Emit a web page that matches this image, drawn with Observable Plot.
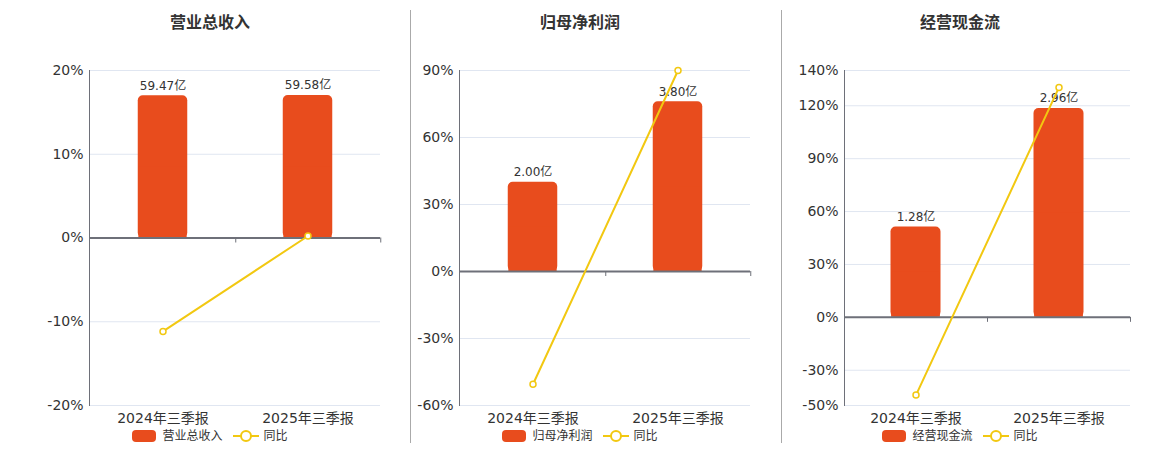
<!DOCTYPE html>
<html>
<head>
<meta charset="utf-8">
<script src="https://cdn.jsdelivr.net/npm/d3@7"></script>
<script src="https://cdn.jsdelivr.net/npm/@observablehq/plot@0.6"></script>
<style>
  html, body { margin: 0; padding: 0; background: #fff; }
  body { font-family: "DejaVu Sans", "Noto Sans CJK SC", sans-serif; }
  #root { position: relative; width: 1160px; height: 450px; overflow: hidden; }
  .panel { position: absolute; top: 40px; }
  .title { position: absolute; top: 13px; width: 300px; text-align: center; font-size: 16px; font-weight: bold; color: #333; line-height: 20px; }
  .legend { position: absolute; top: 428px; width: 400px; display: flex; justify-content: center; align-items: center; font-size: 12px; color: #333; line-height: 16px; }
  .sw { width: 24px; height: 12px; border-radius: 4px; display: inline-block; }
  .sep { position: absolute; top: 10px; width: 1px; height: 433px; background: #aaa; }
</style>
</head>
<body>
<div id="root"></div>
<script>
const categories = ["2024年三季报", "2025年三季报"];
const titles = ["营业总收入", "归母净利润", "经营现金流"];
const barValues = [[59.47, 59.58], [2.00, 3.80], [1.28, 2.96]];
const barUnit = "亿";
const yoyValues = [[-11.15, 0.24], [-50.5, 90.0], [-44.1, 130.4]];
const yoyName = "同比";
const yTicks = [[-20, -10, 0, 10, 20], [-60, -30, 0, 30, 60, 90], [-50, -30, 0, 30, 60, 90, 120, 140]];
const barAxisMax = [70, 4.5, 3.5];

const barColor = "#E84C1D";
const lineColor = "#F2C811";

// layout of panels (pixel geometry only)
const panels = [
  {left: 0, width: 410, ml: 89, mr: 30, center: 210},
  {left: 410, width: 371, ml: 49, mr: 31, center: 580},
  {left: 781, width: 379, ml: 63, mr: 30, center: 960}
];
const H = 400, MT = 30, MB = 35, BAR_W = 50;
const root = document.getElementById("root");

panels.forEach((p, k) => {
  const ticks = yTicks[k];
  const yMin = d3.min(ticks), yMax = d3.max(ticks);
  const factor = yMax / barAxisMax[k];
  const rows = categories.map((c, i) => ({
    cat: c,
    bar: barValues[k][i],
    barY: barValues[k][i] * factor,
    label: barValues[k][i].toFixed(2) + barUnit,
    yoy: yoyValues[k][i]
  }));
  const step = (p.width - p.ml - p.mr) / categories.length;
  const inset = (step - BAR_W) / 2;

  const chart = Plot.plot({
    width: p.width,
    height: H,
    marginLeft: p.ml,
    marginRight: p.mr,
    marginTop: MT,
    marginBottom: MB,
    style: {fontFamily: '"DejaVu Sans", "Noto Sans CJK SC", sans-serif', color: "#333", background: "transparent"},
    x: {type: "band", domain: categories, padding: 0},
    y: {domain: [yMin, yMax]},
    marks: [
      Plot.ruleY(ticks, {stroke: "#e0e6f1", strokeWidth: 1}),
      Plot.frame({anchor: "left", stroke: "#6e7079", strokeWidth: 1}),
      Plot.axisY({ticks: ticks, tickSize: 0, tickPadding: 6, tickFormat: d => d + "%", fontSize: 14, fill: "#333", label: null}),
      Plot.axisX({tickSize: 0, tickPadding: 8, fontSize: 14, fill: "#333", label: null}),
      // rounded bar, plus a slightly narrower square lower half so only the top corners appear rounded
      Plot.barY(rows, {x: "cat", y: "barY", fill: barColor, insetLeft: inset, insetRight: inset, rx: 5, ry: 5}),
      Plot.barY(rows, {x: "cat", y1: 0, y2: d => d.barY / 2, fill: barColor, insetLeft: inset + 0.6, insetRight: inset + 0.6}),
      Plot.ruleY([0], {stroke: "#6e7079", strokeWidth: 2}),
      Plot.ruleX(rows, {x: "cat", y1: 0, y2: 0, dx: step / 2, insetBottom: -5, stroke: "#6e7079", strokeWidth: 1}),
      Plot.text(rows, {x: "cat", y: "barY", text: "label", dy: -10, fontSize: 12, fill: "#333"}),
      Plot.line(rows, {x: "cat", y: "yoy", stroke: lineColor, strokeWidth: 2}),
      Plot.dot(rows, {x: "cat", y: "yoy", r: 3, fill: "#fff", stroke: lineColor, strokeWidth: 1.5})
    ]
  });
  const wrap = document.createElement("div");
  wrap.className = "panel";
  wrap.style.left = p.left + "px";
  wrap.appendChild(chart);
  root.appendChild(wrap);

  const t = document.createElement("div");
  t.className = "title";
  t.style.left = (p.center - 150) + "px";
  t.textContent = titles[k];
  root.appendChild(t);

  const lg = document.createElement("div");
  lg.className = "legend";
  lg.style.left = (p.center - 200) + "px";
  lg.innerHTML =
    `<span class="sw" style="background:${barColor}"></span>` +
    `<span style="margin-left:6px">${titles[k]}</span>` +
    `<svg width="26" height="14" style="margin-left:10px"><line x1="0" y1="7" x2="26" y2="7" stroke="${lineColor}" stroke-width="2"/><circle cx="13" cy="7" r="5" fill="#fff" stroke="${lineColor}" stroke-width="2"/></svg>` +
    `<span style="margin-left:5px">${yoyName}</span>`;
  root.appendChild(lg);
});

[410, 781].forEach(x => {
  const s = document.createElement("div");
  s.className = "sep";
  s.style.left = x + "px";
  root.appendChild(s);
});
</script>
</body>
</html>
